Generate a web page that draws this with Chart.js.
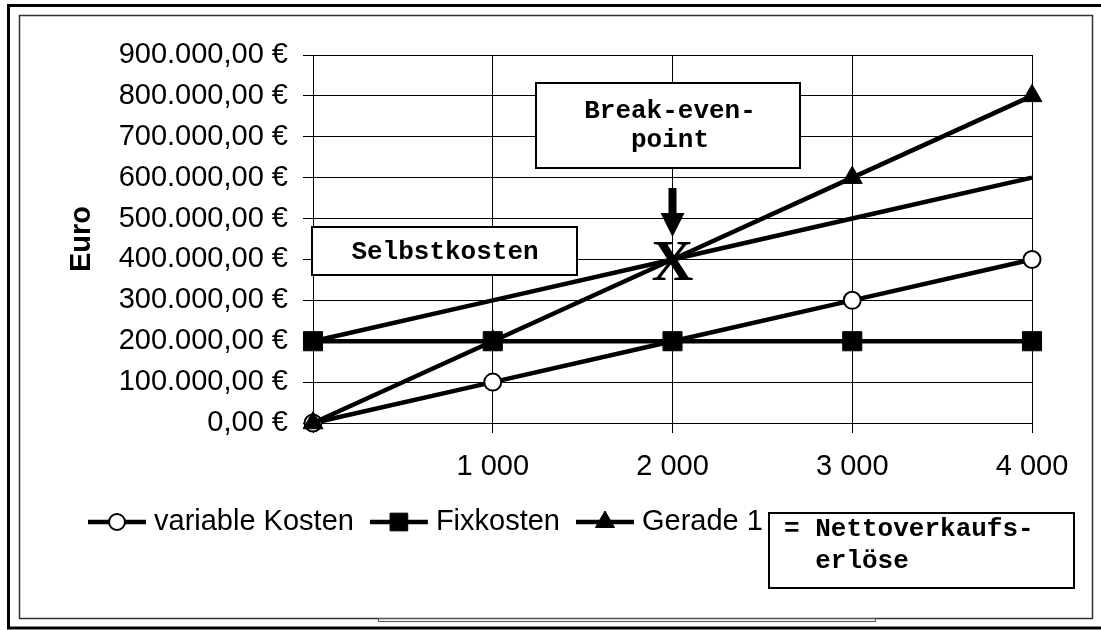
<!DOCTYPE html>
<html lang="de">
<head>
<meta charset="utf-8">
<title>Break-even-point</title>
<script src="https://cdn.jsdelivr.net/npm/chart.js@4.4.1/dist/chart.umd.min.js"></script>
<style>
  html, body { margin: 0; padding: 0; background: #fff; }
  #wrap { width: 1101px; height: 630px; }
</style>
</head>
<body>
<div id="wrap"><canvas id="beChart" width="1101" height="630"></canvas></div>
<script>
// Daten (Menge in Stück, Werte in Euro)
const mengen = [0, 1000, 2000, 3000, 4000];
const variableKosten = [0, 100000, 200000, 300000, 400000];
const fixkosten = [200000, 200000, 200000, 200000, 200000];
const gerade1 = [0, 200000, 400000, 600000, 800000];
const selbstkosten = [200000, 300000, 400000, 500000, 600000];

const legendenNamen = ['variable Kosten', 'Fixkosten', 'Gerade 1'];
const yMax = 900000;
const yStep = 100000;
const xMax = 4000;
const xStep = 1000;

const schrift = '"Liberation Sans", Arial, sans-serif';
const mono = '"Liberation Mono", "Courier New", monospace';

function euro(v) {
  const s = Math.round(v).toString().replace(/\B(?=(\d{3})+(?!\d))/g, '.');
  return s + ',00 €';
}
function stueck(v) {
  if (v === 0) return '';
  return v.toString().replace(/\B(?=(\d{3})+(?!\d))/g, ' ');
}
function punkte(werte) {
  return mengen.map((m, i) => ({ x: m, y: werte[i] }));
}

// Rahmen um das ganze Diagramm
const rahmen = {
  id: 'rahmen',
  beforeDraw(chart) {
    const ctx = chart.ctx;
    ctx.save();
    ctx.fillStyle = '#fff';
    ctx.fillRect(0, 0, chart.width, chart.height);
    ctx.strokeStyle = '#000';
    ctx.lineWidth = 3;
    ctx.strokeRect(8.5, 5.5, 1200, 622.5);
    ctx.strokeStyle = '#333';
    ctx.lineWidth = 1.5;
    ctx.strokeRect(19.5, 15.5, 1073, 603);
    ctx.lineWidth = 1;
    ctx.strokeStyle = '#555';
    ctx.strokeRect(378.5, 618.5, 497, 3);
    ctx.restore();
  }
};

// Legende unten: Linie mit Marker + Text
const legende = {
  id: 'legende',
  afterDraw(chart) {
    const ctx = chart.ctx;
    let x = 88;
    const y = 522;
    ctx.save();
    ctx.font = '29px ' + schrift;
    ctx.textBaseline = 'middle';
    ctx.textAlign = 'left';
    chart.data.datasets.forEach(ds => {
      if (!legendenNamen.includes(ds.label)) return;
      ctx.strokeStyle = '#000';
      ctx.lineWidth = 4.5;
      ctx.beginPath();
      ctx.moveTo(x, y);
      ctx.lineTo(x + 58, y);
      ctx.stroke();
      ctx.fillStyle = ds.pointBackgroundColor;
      ctx.strokeStyle = ds.pointBorderColor;
      ctx.lineWidth = ds.pointBorderWidth;
      Chart.helpers.drawPoint(ctx, {
        pointStyle: ds.pointStyle,
        radius: ds.legendRadius,
        borderWidth: ds.pointBorderWidth,
        rotation: 0
      }, x + 29, y);
      ctx.fillStyle = '#000';
      ctx.fillText(ds.label, x + 66, y);
      x += 66 + ctx.measureText(ds.label).width + 16;
    });
    ctx.restore();
  }
};

// Textfelder, Pfeil und X
function textBox(ctx, x1, y1, x2, y2) {
  ctx.fillStyle = '#fff';
  ctx.fillRect(x1, y1, x2 - x1, y2 - y1);
  ctx.strokeStyle = '#000';
  ctx.lineWidth = 2;
  ctx.strokeRect(x1, y1, x2 - x1, y2 - y1);
}
const beschriftung = {
  id: 'beschriftung',
  afterDraw(chart) {
    const ctx = chart.ctx;
    ctx.save();
    ctx.font = 'bold 26px ' + mono;
    ctx.textBaseline = 'middle';

    textBox(ctx, 536, 83, 800, 168);
    ctx.fillStyle = '#000';
    ctx.textAlign = 'center';
    ctx.fillText('Break-even-', 670, 111);
    ctx.fillText('point', 670, 140);

    textBox(ctx, 312, 227, 577, 275);
    ctx.fillStyle = '#000';
    ctx.fillText('Selbstkosten', 445, 252);

    textBox(ctx, 769, 513, 1074, 588);
    ctx.fillStyle = '#000';
    ctx.textAlign = 'left';
    ctx.fillText('= Nettoverkaufs-', 784, 529);
    ctx.fillText('  erlöse', 784, 561);

    // Pfeil auf den Break-even-point
    const px = chart.scales.x.getPixelForValue(2000);
    ctx.fillRect(px - 4, 188, 8, 26);
    ctx.beginPath();
    ctx.moveTo(px - 12, 213);
    ctx.lineTo(px + 12, 213);
    ctx.lineTo(px, 237);
    ctx.closePath();
    ctx.fill();

    ctx.font = 'bold 58px "Liberation Serif", "Times New Roman", serif';
    ctx.textAlign = 'center';
    ctx.fillText('X', px, chart.scales.y.getPixelForValue(400000) + 6);
    ctx.restore();
  }
};

const ctx = document.getElementById('beChart').getContext('2d');
const beChart = new Chart(ctx, {
  type: 'line',
  data: {
    datasets: [{
      label: 'variable Kosten',
      data: punkte(variableKosten),
      borderColor: '#000',
      borderWidth: 4.5,
      pointStyle: 'circle',
      pointRadius: 8.5,
      legendRadius: 8,
      pointBackgroundColor: '#fff',
      pointBorderColor: '#000',
      pointBorderWidth: 2,
      order: 2
    }, {
      label: 'Fixkosten',
      data: punkte(fixkosten),
      borderColor: '#000',
      borderWidth: 4.5,
      pointStyle: 'rect',
      pointRadius: 13.5,
      legendRadius: 12.5,
      pointBackgroundColor: '#000',
      pointBorderColor: '#000',
      pointBorderWidth: 1,
      order: 1
    }, {
      label: 'Gerade 1',
      data: punkte(gerade1),
      borderColor: '#000',
      borderWidth: 4.5,
      pointStyle: 'triangle',
      pointRadius: [11.5, 11.5, 0, 11.5, 11.5],
      legendRadius: 11,
      pointBackgroundColor: '#000',
      pointBorderColor: '#000',
      pointBorderWidth: 1,
      order: 0
    }, {
      label: 'Selbstkosten',
      data: punkte(selbstkosten),
      borderColor: '#000',
      borderWidth: 4.5,
      pointRadius: 0,
      order: 3
    }]
  },
  options: {
    responsive: false,
    animation: false,
    devicePixelRatio: 1,
    layout: {
      padding: { left: 0, right: 69, top: 55, bottom: 147 }
    },
    elements: {
      line: { tension: 0, fill: false },
      point: { hoverRadius: 0 }
    },
    datasets: {
      line: { clip: false }
    },
    plugins: {
      legend: { display: false },
      tooltip: { enabled: false }
    },
    scales: {
      x: {
        type: 'linear',
        min: 0,
        max: xMax,
        afterFit: scale => { scale.height = 60; },
        ticks: {
          stepSize: xStep,
          color: '#000',
          font: { family: schrift, size: 29 },
          padding: 17,
          maxRotation: 0,
          callback: v => stueck(v)
        },
        grid: { color: '#000', lineWidth: 1, tickLength: 10, tickColor: '#000' },
        border: { color: '#000', width: 1 }
      },
      y: {
        min: 0,
        max: yMax,
        afterFit: scale => { scale.width = 313; },
        ticks: {
          stepSize: yStep,
          color: '#000',
          font: { family: schrift, size: 29 },
          padding: 15,
          callback: v => euro(v)
        },
        grid: { color: '#000', lineWidth: 1, tickLength: 10, tickColor: '#000' },
        border: { color: '#000', width: 1 },
        title: {
          display: true,
          text: 'Euro',
          color: '#000',
          font: { family: schrift, size: 29, weight: 'bold' },
          padding: { top: 65, bottom: 0 }
        }
      }
    }
  },
  plugins: [rahmen, legende, beschriftung]
});
</script>
</body>
</html>
